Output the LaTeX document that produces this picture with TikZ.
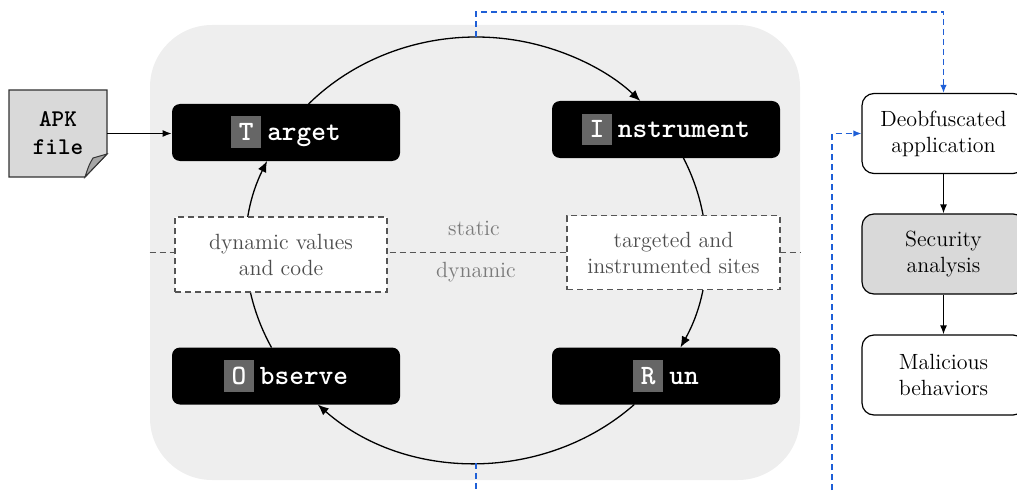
\documentclass[tikz,border=0pt]{standalone}
\usepackage{fontspec}
\usetikzlibrary{arrows.meta,calc}

\definecolor{panelgray}{HTML}{EEEEEE}
\definecolor{initgray}{HTML}{666666}
\definecolor{docgray}{HTML}{D9D9D9}
\definecolor{flapgray}{HTML}{A6A6A6}
\definecolor{dashgray}{HTML}{555555}
\definecolor{softgray}{HTML}{7A7A7A}
\definecolor{linkblue}{HTML}{1F5FD6}

% first letter of a phase name set on a grey square
\newcommand\capbox[1]{{\setlength\fboxsep{0pt}\colorbox{initgray}{\makebox[15pt]{\rule[-4pt]{0pt}{16pt}#1}}}}

\tikzset{
  phase/.style={fill=black, text=white, rounded corners=4pt,
    minimum width=114pt, minimum height=28.5pt, inner sep=0pt,
    font=\fontsize{14}{16}\selectfont\ttfamily\bfseries},
  dashbox/.style={draw=dashgray, fill=white, dash pattern=on 3pt off 2pt,
    line width=0.6pt, text=dashgray!90!black, align=center, inner sep=0pt,
    font=\fontsize{11}{13}\selectfont},
  sidelabel/.style={text=softgray, font=\fontsize{11}{13}\selectfont},
  outbox/.style={draw, line width=0.6pt, rounded corners=6pt, align=center,
    minimum width=81.5pt, minimum height=40pt, inner sep=0pt,
    font=\fontsize{11}{13}\selectfont},
  cycarrow/.style={line width=0.65pt, -{Latex[length=5.5pt,width=4.5pt]}},
  flowarrow/.style={line width=0.6pt, -{Latex[length=4.5pt,width=3.5pt]}},
  bluelink/.style={linkblue, line width=0.6pt, dash pattern=on 3pt off 2pt},
  bluetip/.style={-{Latex[length=4pt,width=3.2pt]}},
}

\begin{document}
\begin{tikzpicture}[x=0.5pt, y=-0.5pt]
\useasboundingbox (0,0) rectangle (1017,492);
\clip (0,0) rectangle (1017,492);

% grey panel holding the cycle
\node[fill=panelgray, rounded corners=31pt, minimum width=325pt,
      minimum height=227.5pt, inner sep=0pt] (panel) at (475,252.5) {};

% static / dynamic divider
\draw[dashgray, dash pattern=on 3pt off 2pt, line width=0.6pt]
  (panel.west) -- (panel.east);
\node[sidelabel] (static) at (474,228) {static};
\node[sidelabel] (dynamic) at (476,272) {dynamic};

% the four phases
\node[phase] (target) at (286,132.5) {\capbox{T}\hspace{3pt}arget};
\node[phase] (instr) at (666,129.5) {\capbox{I}\hspace{3pt}nstrument};
\node[phase] (observe) at (286,376) {\capbox{O}\hspace{3pt}bserve};
\node[phase] (run) at (666,376) {\capbox{R}\hspace{3pt}un};

% cycle arcs on an ellipse centred in the panel
\coordinate (cyc) at (476,250);
\draw[cycarrow] ([shift={(223.27:230 and 213)}]cyc)
  arc[start angle=223.27, end angle=315.61, x radius=230, y radius=213];
\draw[cycarrow] ([shift={(-25.59:230 and 213)}]cyc)
  arc[start angle=-25.59, end angle=27.24, x radius=230, y radius=213];
\draw[cycarrow] ([shift={(46.50:230 and 213)}]cyc)
  arc[start angle=46.50, end angle=133.50, x radius=230, y radius=213];
\draw[cycarrow] ([shift={(152.76:230 and 213)}]cyc)
  arc[start angle=152.76, end angle=204.70, x radius=230, y radius=213];
\coordinate (ctop) at (476,37);
\coordinate (cbot) at (476,463);

% intermediate artefacts, set over the arcs
\node[dashbox, minimum width=106pt, minimum height=37.5pt] (dynvals)
  at (281,254.5) {dynamic values\\and code};
\node[dashbox, minimum width=106.5pt, minimum height=37pt] (sites)
  at (673.5,252.5) {targeted and\\instrumented sites};

% input document
\node[minimum width=49pt, minimum height=43.5pt, inner sep=0pt]
  (apk) at (58,133.5) {};
\filldraw[fill=docgray, draw=black!80, line width=0.6pt]
  (9,90) -- (107,90) -- (107,154) -- (85,177) -- (9,177) -- cycle;
\filldraw[fill=flapgray, draw=black!80, line width=0.5pt]
  (107,154) -- (93,158) .. controls (89,165) .. (85,177) -- cycle;
\node[align=center, font=\fontsize{12}{14}\selectfont\ttfamily\bfseries]
  (apklabel) at (apk) {APK\\file};
\draw[flowarrow] (apk.east) -- (apk.east -| target.west);

% downstream analysis
\node[outbox] (deob) at (943.5,133.5) {Deobfuscated\\application};
\node[outbox, fill=docgray] (sec) at (943.5,254) {Security\\analysis};
\node[outbox] (mal) at (943.5,375) {Malicious\\behaviors};
\draw[flowarrow] (deob) -- (sec);
\draw[flowarrow] (sec) -- (mal);

% blue links
\coordinate (stubend) at (476,500);
\coordinate (feedin) at (832,500);
\draw[bluelink, bluetip] (ctop) -- ++(0,-25) -| (deob.north);
\draw[bluelink] (cbot) -- (stubend);
\draw[bluelink, bluetip] (feedin) |- (deob.west);
\end{tikzpicture}
\end{document}
